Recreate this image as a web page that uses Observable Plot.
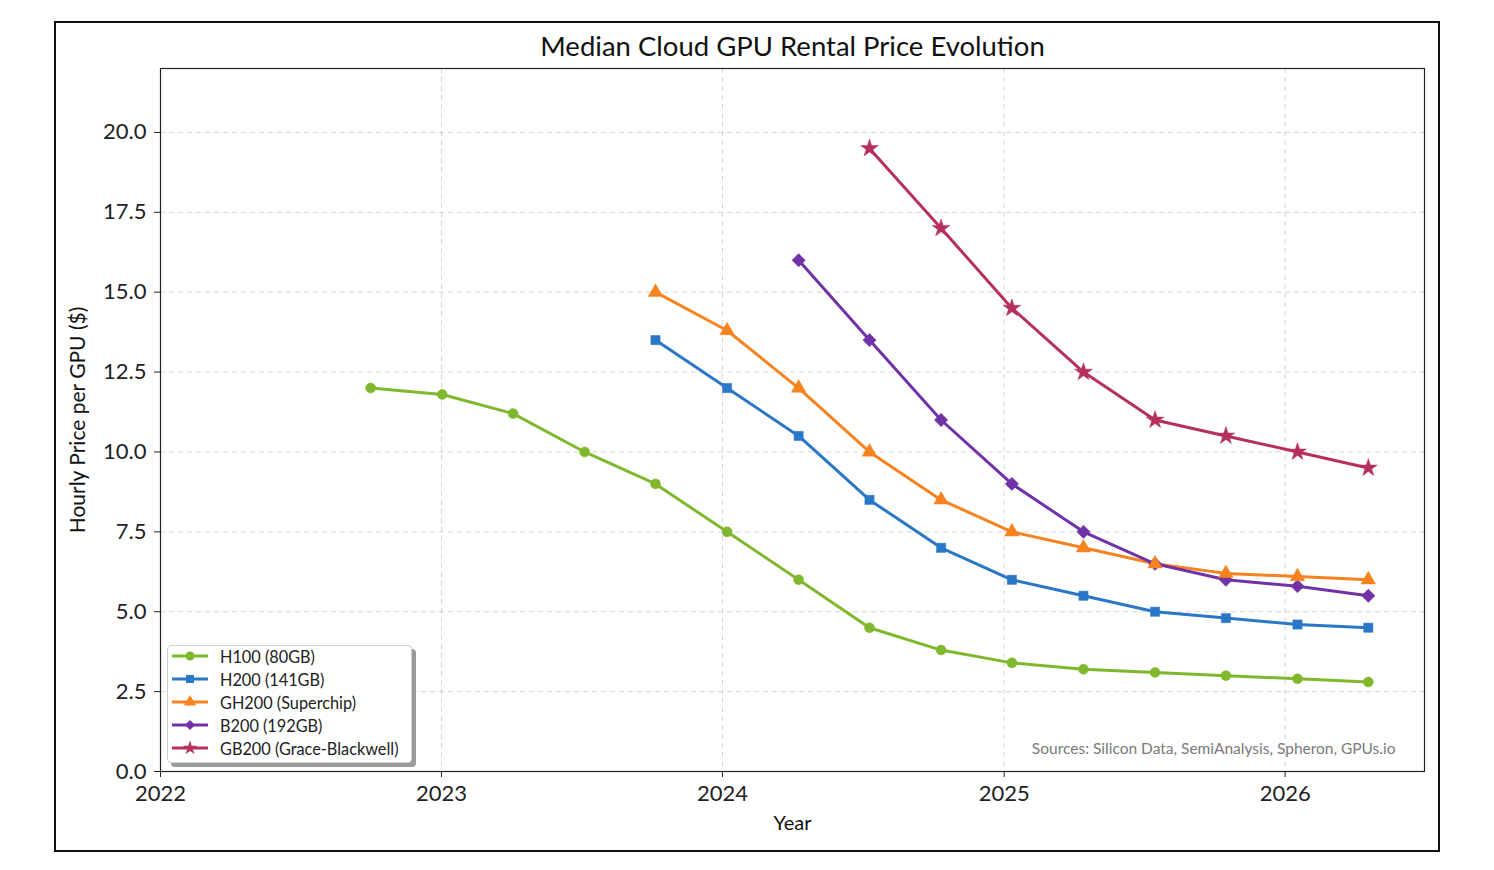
<!DOCTYPE html>
<html>
<head>
<meta charset="utf-8">
<script src="https://cdn.jsdelivr.net/npm/d3@7"></script>
<script src="https://cdn.jsdelivr.net/npm/@observablehq/plot@0.6"></script>
<style>
  html, body { margin: 0; padding: 0; background: #fff; }
  #wrap { position: relative; width: 1494px; height: 870px; font-family: Lato, "Open Sans", sans-serif; }
  #border { position: absolute; left: 54px; top: 21px; width: 1382px; height: 827px; border: 2px solid #111; pointer-events: none; }
  #legend { position: absolute; left: 167px; top: 645px; width: 245px; height: 118px; background: #fff;
            border: 1px solid #d0d0d0; border-radius: 4px; box-shadow: 4px 4px 0 #9a9a9a; box-sizing: border-box; }
  .item { position: absolute; left: 0; height: 20px; display: flex; align-items: center; font-size: 16.3px; color: #222; white-space: nowrap; }
  .item svg { margin-left: 4px; margin-right: 11px; }
</style>
</head>
<body>
<div id="wrap"><div id="chart"></div><div id="legend"></div><div id="border"></div></div>
<script>
// ---- data ----
const dates = ["2022-10-01","2023-01-02","2023-04-04","2023-07-06","2023-10-06","2024-01-07","2024-04-09","2024-07-10",
               "2024-10-11","2025-01-11","2025-04-14","2025-07-16","2025-10-16","2026-01-17","2026-04-19"];
const seriesNames = ["H100 (80GB)", "H200 (141GB)", "GH200 (Superchip)", "B200 (192GB)", "GB200 (Grace-Blackwell)"];
const h100  = [12.0, 11.8, 11.2, 10.0, 9.0, 7.5, 6.0, 4.5, 3.8, 3.4, 3.2, 3.1, 3.0, 2.9, 2.8];
const h200  = [null, null, null, null, 13.5, 12.0, 10.5, 8.5, 7.0, 6.0, 5.5, 5.0, 4.8, 4.6, 4.5];
const gh200 = [null, null, null, null, 15.0, 13.8, 12.0, 10.0, 8.5, 7.5, 7.0, 6.5, 6.2, 6.1, 6.0];
const b200  = [null, null, null, null, null, null, 16.0, 13.5, 11.0, 9.0, 7.5, 6.5, 6.0, 5.8, 5.5];
const gb200 = [null, null, null, null, null, null, null, 19.5, 17.0, 14.5, 12.5, 11.0, 10.5, 10.0, 9.5];
const yTicks = [0, 2.5, 5, 7.5, 10, 12.5, 15, 17.5, 20];
const xTickYears = [2022, 2023, 2024, 2025, 2026];
const colors = ["#80B82D", "#2A77C8", "#F6831F", "#7132A8", "#B5305E"];
const symbols = ["circle", "square", "triangle", "diamond2", "star"];
const title = "Median Cloud GPU Rental Price Evolution";
const xLabel = "Year";
const yLabel = "Hourly Price per GPU ($)";
const sourceNote = "Sources: Silicon Data, SemiAnalysis, Spheron, GPUs.io";

const allValues = [h100, h200, gh200, b200, gb200];
const rows = [];
allValues.forEach((vals, si) => vals.forEach((v, i) => {
  if (v != null) rows.push({series: seriesNames[si], date: new Date(dates[i] + "T00:00:00Z"), price: v});
}));
const xTicks = xTickYears.map(y => new Date(Date.UTC(y, 0, 1)));
const font = "Lato, 'Open Sans', sans-serif";
const symbolR = {circle: 5, square: 5.2, triangle: 5.4, diamond2: 6, star: 5.6};

const chart = Plot.plot({
  width: 1494, height: 870,
  marginLeft: 160, marginRight: 70, marginTop: 68, marginBottom: 99,
  style: {fontFamily: font, background: "#fff", color: "#222"},
  x: {type: "utc", domain: [new Date(Date.UTC(2022,0,1)), new Date(Date.UTC(2026,6,1))]},
  y: {domain: [0, 22]},
  r: {type: "identity"},
  color: {domain: seriesNames, range: colors},
  symbol: {domain: seriesNames, range: symbols},
  marks: [
    Plot.gridX(xTicks, {stroke: "#bbb", strokeOpacity: 0.6, strokeDasharray: "5,4"}),
    Plot.gridY(yTicks, {stroke: "#bbb", strokeOpacity: 0.6, strokeDasharray: "5,4"}),
    Plot.axisX({ticks: xTicks, tickFormat: d => String(d.getUTCFullYear()), tickSize: 6, tickPadding: 8, fontSize: 22, label: null, stroke: "#222"}),
    Plot.axisY({ticks: yTicks, tickFormat: d => d.toFixed(1), tickSize: 6, tickPadding: 8, fontSize: 22, label: null, stroke: "#222"}),
    Plot.line(rows, {x: "date", y: "price", z: "series", stroke: "series", strokeWidth: 3}),
    Plot.dot(rows, {x: "date", y: "price", fill: "series", symbol: "series",
                    r: d => symbolR[symbols[seriesNames.indexOf(d.series)]], stroke: "series", strokeWidth: 0.5}),
    Plot.frame({stroke: "#222", strokeWidth: 1.2}),
    Plot.text([title], {frameAnchor: "top", dy: -21, fontSize: 27.5, fill: "#111", lineAnchor: "middle"}),
    Plot.text([xLabel], {frameAnchor: "bottom", dy: 52, fontSize: 20, fill: "#111", lineAnchor: "middle"}),
    Plot.text([yLabel], {frameAnchor: "left", dx: -82, rotate: -90, fontSize: 21, fill: "#111", textAnchor: "middle", lineAnchor: "middle"}),
    Plot.text([sourceNote], {frameAnchor: "bottom-right", dx: -29, dy: -22, fontSize: 15.5, fill: "#7a7a7a", textAnchor: "end", lineAnchor: "middle"})
  ]
});
document.getElementById("chart").appendChild(chart);

// legend
const legend = d3.select("#legend");
const symMap = {circle: d3.symbolCircle, square: d3.symbolSquare, triangle: d3.symbolTriangle, diamond2: d3.symbolDiamond2, star: d3.symbolStar};
seriesNames.forEach((name, i) => {
  const item = legend.append("div").attr("class", "item").style("top", (0 + i * 23) + "px");
  const s = item.append("svg").attr("width", 37).attr("height", 20);
  s.append("line").attr("x1", 0).attr("x2", 36).attr("y1", 10).attr("y2", 10)
    .attr("stroke", colors[i]).attr("stroke-width", 3);
  s.append("path").attr("d", d3.symbol(symMap[symbols[i]], 64)()).attr("transform", "translate(18,10)").attr("fill", colors[i]);
  item.append("span").text(name);
});
</script>
</body>
</html>
